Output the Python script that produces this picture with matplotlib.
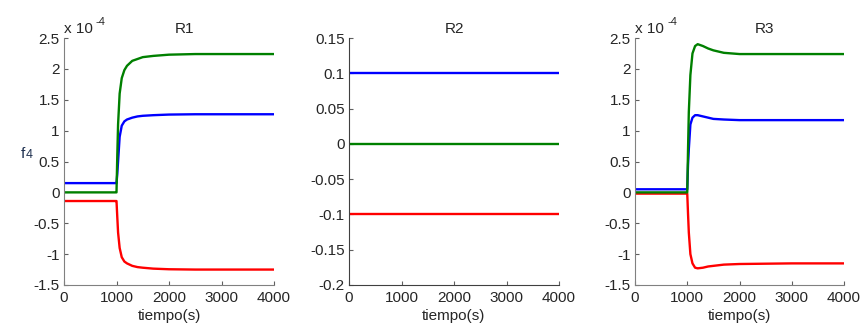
import matplotlib
matplotlib.use("Agg")
import matplotlib.pyplot as plt
from matplotlib.ticker import FuncFormatter

plt.rcParams['font.family'] = ['Liberation Sans', 'DejaVu Sans']

# time samples (s)
t = [0, 999, 1000, 1015, 1030, 1060, 1100, 1150, 1200, 1300, 1400, 1500, 1700, 2000, 2500, 3000, 4000]

SCALE = 1e-4
# R1 (units of 1e-4)
r1_green = [0, 0, 0, 0.6, 1.1, 1.6, 1.85, 1.98, 2.05, 2.13, 2.16, 2.19, 2.21, 2.23, 2.24, 2.24, 2.24]
r1_blue = [0.15, 0.15, 0.15, 0.3, 0.5, 0.9, 1.08, 1.15, 1.18, 1.21, 1.23, 1.24, 1.25, 1.26, 1.265, 1.265, 1.265]
r1_red = [-0.14, -0.14, -0.14, -0.4, -0.65, -0.9, -1.05, -1.12, -1.15, -1.19, -1.21, -1.22, -1.235, -1.245, -1.25, -1.25, -1.25]

# R2
r2_t = [0, 4000]
r2_blue = [0.1, 0.1]
r2_green = [0.0, 0.0]
r2_red = [-0.1, -0.1]

# R3 (units of 1e-4)
r3_green = [0, 0, 0, 0.7, 1.3, 1.9, 2.25, 2.37, 2.40, 2.37, 2.33, 2.30, 2.26, 2.24, 2.24, 2.24, 2.24]
r3_blue = [0.05, 0.05, 0.05, 0.45, 0.7, 1.1, 1.21, 1.25, 1.25, 1.23, 1.21, 1.19, 1.18, 1.17, 1.17, 1.17, 1.17]
r3_red = [-0.02, -0.02, -0.02, -0.35, -0.65, -1.0, -1.15, -1.22, -1.23, -1.22, -1.20, -1.19, -1.17, -1.16, -1.155, -1.15, -1.15]

xticks = [0, 1000, 2000, 3000, 4000]
titles = ["R1", "R2", "R3"]

BLUE, GREEN, RED = "#0000ff", "#008000", "#ff0000"
TXT = "#262626"
FS = 11

fig = plt.figure(figsize=(8.61, 3.25), dpi=100)
W, H = 861, 325

def add_axes(left, right, top, bottom):
    return fig.add_axes([left / W, 1 - bottom / H, (right - left) / W, (bottom - top) / H])

ax1 = add_axes(64, 274, 38, 285)
ax2 = add_axes(349, 559, 38, 285)
ax3 = add_axes(635, 844, 38, 285)

lw = 1.7
for ax, g, b, r, x0 in [(ax1, r1_green, r1_blue, r1_red, 64), (ax3, r3_green, r3_blue, r3_red, 635)]:
    ax.plot(t, [v * SCALE for v in b], color=BLUE, lw=lw)
    ax.plot(t, [v * SCALE for v in r], color=RED, lw=lw)
    ax.plot(t, [v * SCALE for v in g], color=GREEN, lw=lw)
    ax.set_ylim(-1.5e-4, 2.5e-4)
    ax.set_yticks([v * 1e-4 for v in [-1.5, -1, -0.5, 0, 0.5, 1, 1.5, 2, 2.5]])
    ax.yaxis.set_major_formatter(FuncFormatter(lambda v, p: f"{v / 1e-4:g}"))
    fig.text(x0 / W, 1 - 33 / H, "x 10", ha="left", va="baseline", fontsize=FS, color=TXT)
    fig.text((x0 + 32) / W, 1 - 25 / H, "-4", ha="left", va="baseline", fontsize=8, color=TXT)
    for s in ("left", "bottom"):
        ax.spines[s].set_color("#808080")

ax2.plot(r2_t, r2_blue, color=BLUE, lw=lw)
ax2.plot(r2_t, r2_green, color=GREEN, lw=lw)
ax2.plot(r2_t, r2_red, color=RED, lw=lw)
ax2.set_ylim(-0.2, 0.15)
ax2.set_yticks([-0.2, -0.15, -0.1, -0.05, 0, 0.05, 0.1, 0.15])
ax2.yaxis.set_major_formatter(FuncFormatter(lambda v, p: f"{v:g}"))
for s in ("left", "bottom"):
    ax2.spines[s].set_color("#404040")

title_x = [185, 454, 765]
for ax, title, tx in zip([ax1, ax2, ax3], titles, title_x):
    ax.set_xlim(0, 4000)
    ax.set_xticks(xticks)
    for s in ("top", "right"):
        ax.spines[s].set_visible(False)
    ax.tick_params(direction="in", length=3, labelsize=FS, labelcolor=TXT,
                   color="#606060")
    ax.tick_params(axis="x", pad=4)
    ax.tick_params(axis="y", pad=3)
    ax.set_xlabel("tiempo(s)", fontsize=FS, color=TXT, labelpad=3)
    fig.text(tx / W, 1 - 33 / H, title, ha="center", va="baseline", fontsize=FS, color=TXT)

fig.text(21 / W, 1 - 158 / H, "f", ha="left", va="baseline", fontsize=FS, color="#1f3050")
fig.text(26 / W, 1 - 158 / H, "4", ha="left", va="baseline", fontsize=9, color="#1f3050")

fig.savefig("out.png", dpi=100)
